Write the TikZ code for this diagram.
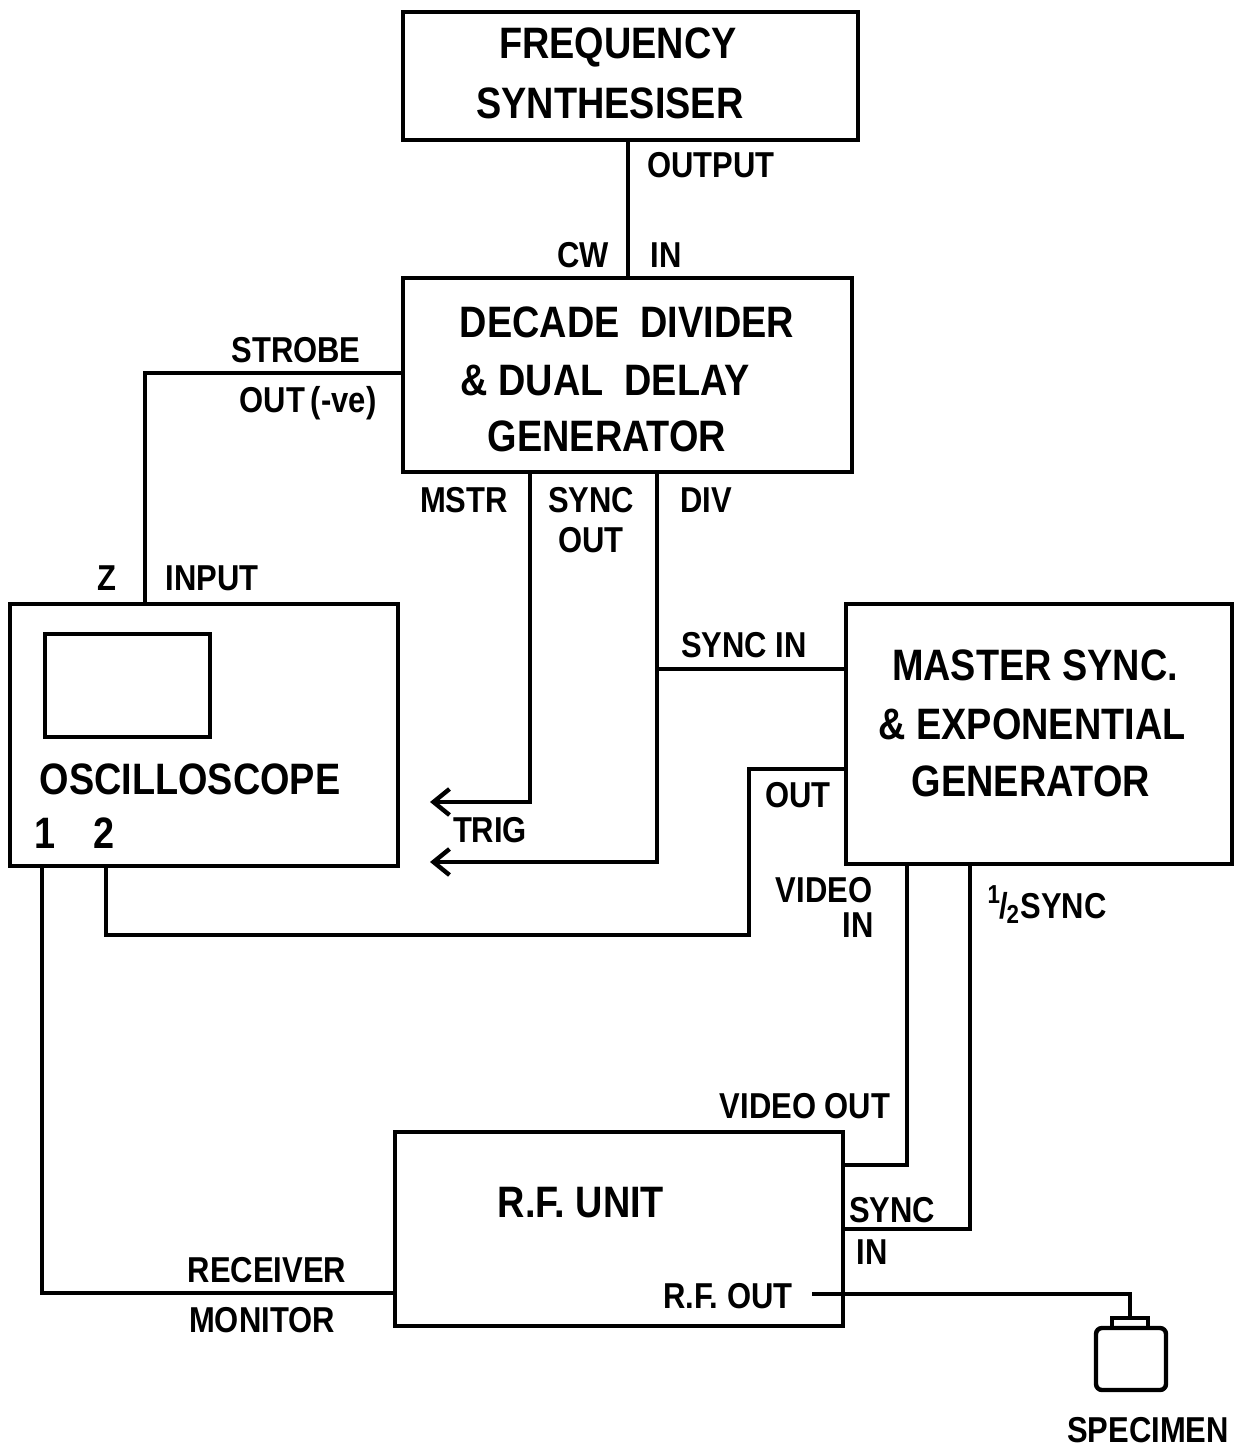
\documentclass[tikz,border=0pt]{standalone}
\usepackage{fontspec}
\setmainfont{Liberation Sans}[FakeStretch=0.86]
\usetikzlibrary{arrows.meta}
\begin{document}
\begin{tikzpicture}[x=0.5pt,y=-0.5pt,
  box/.style={draw, line width=2.2pt, inner sep=0pt},
  wire/.style={line width=2.2pt, line join=miter},
  big/.style={font=\bfseries\fontsize{22}{28}\selectfont, inner sep=0pt},
  lbl/.style={font=\bfseries\fontsize{18}{22}\selectfont, inner sep=0pt},
  tip/.style={-{Straight Barb[length=8pt,width=13pt,line width=2.2pt]}}
]
\useasboundingbox (0,0) rectangle (1242,1449);
% boxes
\node[box, minimum width=227.5pt, minimum height=64pt] (freq) at (630.5,76) {};
\node[box, minimum width=224.5pt, minimum height=97pt] (decade) at (627.5,375) {};
\node[box, minimum width=194pt, minimum height=131pt] (osc) at (204,735) {};
\node[box, minimum width=82.5pt, minimum height=51.5pt] (screen) at (127.5,685.5) {};
\node[box, minimum width=193pt, minimum height=130pt] (master) at (1039,734) {};
\node[box, minimum width=224pt, minimum height=97pt] (rf) at (619,1229) {};
\node[box, minimum width=35pt, minimum height=31pt, rounded corners=3pt] (spec) at (1131,1359) {};
\node[box, minimum width=18pt, minimum height=5pt] (cap) at (1130,1323) {};
% box texts
\node[big] (t1) at (618,47) {FREQUENCY};
\node[big] (t2) at (610,103) {SYNTHESISER};
\node[big] (t3) at (627,322) {DECADE\ \ DIVIDER};
\node[big] (t4) at (605,380) {\&\ DUAL\ \ DELAY};
\node[big] (t5) at (607,436) {GENERATOR};
\node[big] (t6) at (1035,665) {MASTER SYNC.};
\node[big] (t7) at (1032,724) {\&\ EXPONENTIAL};
\node[big] (t8) at (1031,781) {GENERATOR};
\node[big] (t9) at (190,779) {OSCILLOSCOPE};
\node[big] (t10) at (45,833) {1};
\node[big] (t11) at (104,833) {2};
\node[big] (t12) at (581,1203) {R.F. UNIT};
% labels
\node[lbl] (l1) at (711,165) {OUTPUT};
\node[lbl] (l2) at (583,255) {CW};
\node[lbl] (l3) at (666,255) {IN};
\node[lbl] (l4) at (296,350) {STROBE};
\node[lbl] (l5) at (308,403) {OUT\,(-ve)};
\node[lbl] (l6) at (107,578) {Z};
\node[lbl] (l7) at (212,578) {INPUT};
\node[lbl] (l8) at (464,500) {MSTR};
\node[lbl] (l9) at (591,500) {SYNC};
\node[lbl] (l10) at (591,540) {OUT};
\node[lbl] (l11) at (706,500) {DIV};
\node[lbl] (l12) at (744,645) {SYNC\ IN};
\node[lbl] (l13) at (490,830) {TRIG};
\node[lbl] (l14) at (798,795) {OUT};
\node[lbl] (l15) at (824,890) {VIDEO};
\node[lbl] (l16) at (858,925) {IN};
\node[lbl] (l17) at (1047,905) {\raisebox{0.75ex}{\fontsize{13}{13}\selectfont 1}\kern-0.02em/\kern-0.04em\raisebox{-0.3ex}{\fontsize{13}{13}\selectfont 2}\kern0.04em SYNC};
\node[lbl] (l18) at (805,1106) {VIDEO OUT};
\node[lbl] (l19) at (892,1210) {SYNC};
\node[lbl] (l20) at (872,1252) {IN};
\node[lbl] (l21) at (728,1296) {R.F. OUT};
\node[lbl] (l22) at (267,1270) {RECEIVER};
\node[lbl] (l23) at (262,1320) {MONITOR};
\node[lbl] (l24) at (1148,1430) {SPECIMEN};
% connection points
\coordinate (trigA) at (430,802);
\coordinate (trigB) at (430,862);
\coordinate (j1) at (657,669);
\coordinate (rfo) at (812,1294);
% wires
\draw[wire] (freq.south -| 628,0) -- (decade.north -| 628,0);
\draw[wire] (decade.west |- 0,373) -| (osc.north -| 145,0);
\draw[wire, tip] (decade.south -| 530,0) |- (trigA);
\draw[wire, tip] (decade.south -| 657,0) |- (trigB);
\draw[wire] (j1) -- (master.west |- 0,669);
\draw[wire] (master.west |- 0,769) -- (749,769) -- (749,935) -- (106,935) -- (osc.south -| 106,0);
\draw[wire] (master.south -| 907,0) |- (rf.east |- 0,1165);
\draw[wire] (master.south -| 970,0) |- (rf.east |- 0,1229);
\draw[wire] (osc.south -| 42,0) |- (rf.west |- 0,1293);
\draw[wire] (rfo) -| (cap.north);
\end{tikzpicture}
\end{document}
